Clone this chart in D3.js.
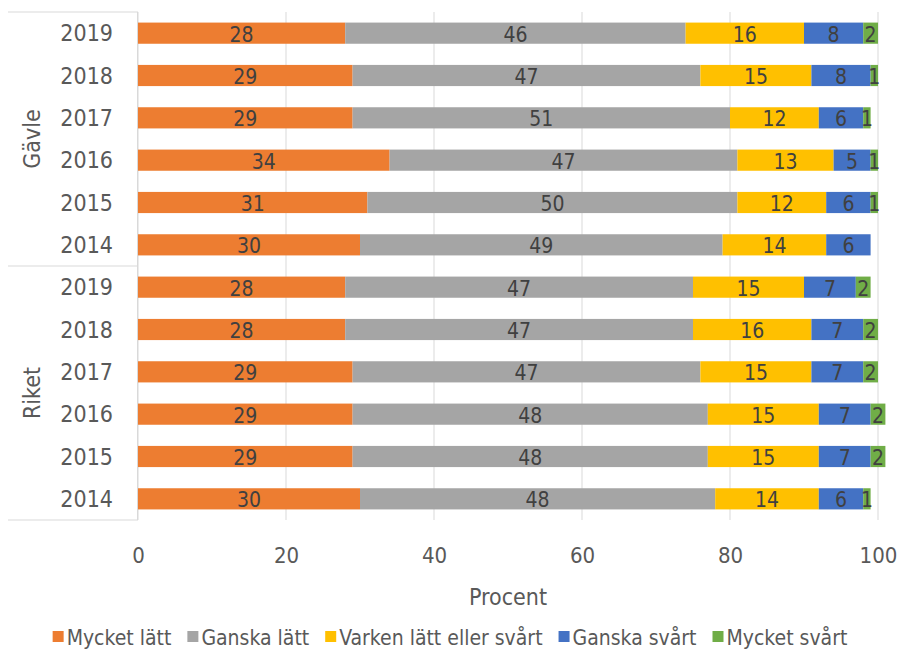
<!DOCTYPE html>
<html>
<head>
<meta charset="utf-8">
<script src="https://cdn.jsdelivr.net/npm/d3@7/dist/d3.min.js"></script>
<style>
  html, body { margin: 0; padding: 0; background: #fff; }
  svg { display: block; }
  text { font-family: "Liberation Sans Narrow", "DejaVu Sans Condensed", "Open Sans", sans-serif; }
</style>
</head>
<body>
<svg id="chart" width="900" height="651"></svg>
<script>
// Survey answers per area and year (percent)
const groups = ["Gävle", "Riket"];
const years = ["2019", "2018", "2017", "2016", "2015", "2014"];
const seriesNames = ["Mycket lätt", "Ganska lätt", "Varken lätt eller svårt", "Ganska svårt", "Mycket svårt"];
const seriesColors = ["#ED7D31", "#A5A5A5", "#FFC000", "#4472C4", "#70AD47"];

// Each array runs Gävle 2019..2014, then Riket 2019..2014
const mycketLatt   = [28, 29, 29, 34, 31, 30,   28, 28, 29, 29, 29, 30];
const ganskaLatt   = [46, 47, 51, 47, 50, 49,   47, 47, 47, 48, 48, 48];
const varken       = [16, 15, 12, 13, 12, 14,   15, 16, 15, 15, 15, 14];
const ganskaSvart  = [ 8,  8,  6,  5,  6,  6,    7,  7,  7,  7,  7,  6];
const mycketSvart  = [ 2,  1,  1,  1,  1,  0,    2,  2,  2,  2,  2,  1];
const xTicks = [0, 20, 40, 60, 80, 100];

const seriesValues = [mycketLatt, ganskaLatt, varken, ganskaSvart, mycketSvart];

const rows = [];
groups.forEach((g, gi) => years.forEach((yr, yi) => {
  const idx = gi * years.length + yi;
  const row = { key: g + "-" + yr, group: g, year: yr };
  seriesNames.forEach((s, si) => row[s] = seriesValues[si][idx]);
  rows.push(row);
}));

const svg = d3.select("#chart");
const plotLeft = 138, plotRight = 878, plotTop = 12, plotBottom = 520;
const labelColor = "#404040";
const axisText = "#595959";

const x = d3.scaleLinear().domain([0, 100]).range([plotLeft, plotRight]);
const y = d3.scaleBand().domain(rows.map(d => d.key)).range([plotTop, plotBottom]).paddingInner(0.5).paddingOuter(0.25);

// vertical gridlines
svg.append("g").selectAll("line").data(xTicks).join("line")
  .attr("x1", d => x(d)).attr("x2", d => x(d))
  .attr("y1", plotTop).attr("y2", plotBottom)
  .attr("stroke", "#d9d9d9").attr("stroke-width", 1);

// category frame lines (group separators)
const frame = svg.append("g").attr("stroke", "#d9d9d9").attr("stroke-width", 1);
const groupH = (plotBottom - plotTop) / groups.length;
d3.range(groups.length + 1).forEach(i => {
  frame.append("line").attr("x1", 8).attr("x2", plotLeft)
    .attr("y1", plotTop + i * groupH).attr("y2", plotTop + i * groupH);
});
frame.append("line").attr("x1", plotLeft - 0.5).attr("x2", plotLeft - 0.5).attr("y1", plotTop).attr("y2", plotBottom);

// stacked bars
const stacked = d3.stack().keys(seriesNames)(rows);
const color = d3.scaleOrdinal().domain(seriesNames).range(seriesColors);

const layers = svg.append("g").selectAll("g").data(stacked).join("g")
  .attr("fill", d => color(d.key));

layers.selectAll("rect").data(d => d.filter(p => p[1] - p[0] > 0)).join("rect")
  .attr("x", d => x(d[0]))
  .attr("width", d => x(d[1]) - x(d[0]))
  .attr("y", d => y(d.data.key))
  .attr("height", y.bandwidth());

// value labels
const labels = svg.append("g");
stacked.forEach(layer => {
  layer.forEach(p => {
    const v = p[1] - p[0];
    if (v <= 0) return;
    labels.append("text")
      .attr("x", (x(p[0]) + x(p[1])) / 2)
      .attr("y", y(p.data.key) + y.bandwidth() / 2 + 1)
      .attr("dy", "0.36em")
      .attr("text-anchor", "middle")
      .attr("font-size", 21)
      .attr("fill", labelColor)
      .text(v);
  });
});

// year labels
svg.append("g").selectAll("text").data(rows).join("text")
  .attr("x", 113)
  .attr("y", d => y(d.key) + y.bandwidth() / 2)
  .attr("dy", "0.36em")
  .attr("text-anchor", "end")
  .attr("font-size", 23)
  .attr("fill", axisText)
  .text(d => d.year);

// group labels
groups.forEach((g, i) => {
  const cy = plotTop + (i + 0.5) * groupH;
  svg.append("text")
    .attr("transform", `translate(32,${cy}) rotate(-90)`)
    .attr("dy", "0.36em")
    .attr("text-anchor", "middle")
    .attr("font-size", 23)
    .attr("fill", axisText)
    .text(g);
});

// x axis tick labels
const xAxis = d3.axisBottom(x).tickValues(xTicks).tickSize(0).tickPadding(0);
const gx = svg.append("g").attr("transform", `translate(0,${plotBottom})`).call(xAxis);
gx.select(".domain").remove();
gx.attr("font-family", null).attr("font-size", null);
gx.selectAll("text")
  .attr("y", 35).attr("dy", "0.36em")
  .attr("font-size", 22)
  .attr("fill", axisText);

// axis title
svg.append("text")
  .attr("x", (plotLeft + plotRight) / 2).attr("y", 597).attr("dy", "0.36em")
  .attr("text-anchor", "middle").attr("font-size", 23).attr("fill", axisText)
  .text("Procent");

// legend
const legend = svg.append("g");
let cursor = 0;
seriesNames.forEach((s, i) => {
  const g = legend.append("g");
  g.append("rect").attr("x", 0).attr("y", -6).attr("width", 11).attr("height", 11).attr("fill", seriesColors[i]);
  const t = g.append("text").attr("x", 14).attr("y", 0).attr("dy", "0.36em")
    .attr("font-size", 21).attr("fill", axisText).text(s);
  const w = 14 + t.node().getComputedTextLength();
  g.attr("transform", `translate(${cursor},0)`);
  cursor += w + 16;
});
const totalW = cursor - 16;
legend.attr("transform", `translate(${450 - totalW / 2},637)`);
</script>
</body>
</html>
